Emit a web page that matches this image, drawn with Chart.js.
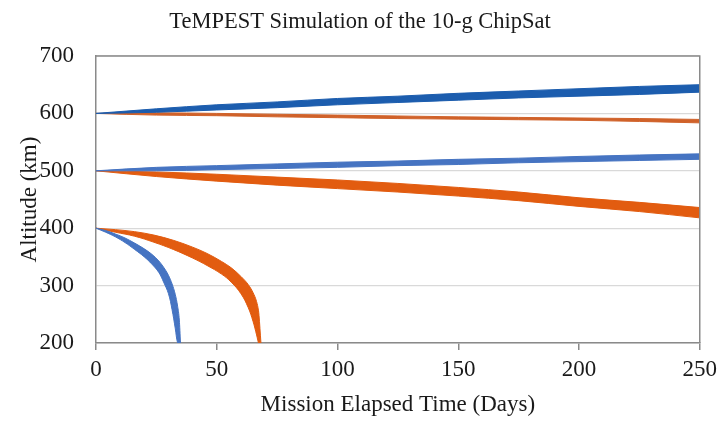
<!DOCTYPE html>
<html>
<head>
<meta charset="utf-8">
<script src="https://cdn.jsdelivr.net/npm/chart.js@4"></script>
<style>
  html, body { margin: 0; padding: 0; background: #ffffff; }
  #wrap { width: 723px; height: 421px; }
</style>
</head>
<body>
<div id="wrap"><canvas id="c" width="723" height="421"></canvas></div>
<script>
// ---- data ----
const titleText = 'TeMPEST Simulation of the 10-g ChipSat';
const xTitle = 'Mission Elapsed Time (Days)';
const yTitle = 'Altitude (km)';
const xTicks = [0, 50, 100, 150, 200, 250];
const yTicks = [200, 300, 400, 500, 600, 700];

// long-term runs (days)
const longDays = [0, 25, 50, 75, 100, 125, 150, 175, 200, 225, 250];
// 600 km start, rising (dark blue) - band upper / lower
const blue600Upper = [600, 608, 615, 620, 626, 630, 635, 639, 643, 647, 650];
const blue600Lower = [600, 602, 606, 610, 615, 619, 623, 627, 630, 633, 637];
// 600 km start, slowly decaying (orange)
const orange600Upper = [600, 601, 600, 598.5, 597, 595.5, 594, 593, 592, 591, 589.5];
const orange600Lower = [600, 597, 596, 594, 592.5, 591, 590, 589, 588, 586, 583.5];
// 500 km start, rising (light blue)
const blue500Upper = [500, 506, 509, 512, 515, 517, 520, 522, 525, 527.5, 529.5];
const blue500Lower = [500, 500, 502, 504, 506, 509, 511, 514, 516, 518, 520];
// 500 km start, decaying (orange)
const orange500Upper = [500, 498, 494, 489, 484, 478, 471, 463, 453, 445, 436];
const orange500Lower = [500, 490, 482, 475, 469, 463, 456, 448, 438, 429, 418];

// 400 km start, fast re-entry (blue)
const blue400Days  = [0, 4, 8, 12, 16, 20, 23, 26, 28, 30, 31.5, 32.8, 33.8, 34.5, 35];
const blue400Upper = [400, 396, 390, 383, 374, 364, 355, 343, 332, 318, 303, 285, 264, 240, 200];
const blue400Lower = [400, 393, 385, 375, 363, 350, 338, 323, 306, 286, 258, 226, 200, 200, 200];
// 400 km start, slower re-entry (orange)
const orange400Days  = [0, 8, 16, 24, 32, 40, 46, 52, 56, 60, 63, 65, 66.5, 67.3, 67.5, 68.3];
const orange400Upper = [400, 397.5, 394, 388, 379, 367, 356, 342, 331, 316, 302, 288, 272, 256, 248, 200];
const orange400Lower = [400, 393, 386, 375.5, 363, 348, 335, 320, 306, 286, 262, 238, 214, 200, 200, 200];

// ---- styling ----
const C_DARKBLUE = '#1C5DAE';
const C_LIGHTBLUE = '#4674C2';
const C_ORANGE = '#E25C10';
const C_ORANGE_THIN = '#D0622A';
const C_AXIS = '#8a8a8a';
const C_GRID = '#d9d9d9';
const FONT = "'Liberation Serif', 'Times New Roman', serif";

function pts(xs, ys) { return xs.map((x, i) => ({ x: x, y: ys[i] })); }

function band(xs, upper, lower, color, lowerMonotone) {
  const lowerDs = { data: pts(xs, lower), borderColor: color, backgroundColor: color, borderWidth: 1,
      pointRadius: 0, fill: false };
  if (lowerMonotone) lowerDs.cubicInterpolationMode = 'monotone';
  else { lowerDs.cubicInterpolationMode = 'default'; lowerDs.tension = 0.4; }
  return [
    lowerDs,
    { data: pts(xs, upper), borderColor: color, backgroundColor: color, borderWidth: 1,
      pointRadius: 0, fill: '-1', cubicInterpolationMode: 'monotone' }
  ];
}

const datasets = [].concat(
  band(longDays, blue600Upper, blue600Lower, C_DARKBLUE, true),
  band(longDays, orange600Upper, orange600Lower, C_ORANGE_THIN, true),
  band(longDays, blue500Upper, blue500Lower, C_LIGHTBLUE, true),
  band(longDays, orange500Upper, orange500Lower, C_ORANGE, true),
  band(blue400Days, blue400Upper, blue400Lower, C_LIGHTBLUE, false),
  band(orange400Days, orange400Upper, orange400Lower, C_ORANGE, false)
);

const frame = {
  id: 'frame',
  afterDatasetsDraw(chart) {
    const a = chart.chartArea, ctx = chart.ctx;
    ctx.save();
    ctx.strokeStyle = C_AXIS;
    ctx.lineWidth = 1.5;
    ctx.beginPath();
    ctx.moveTo(a.left, a.top);
    ctx.lineTo(a.right, a.top);
    ctx.lineTo(a.right, a.bottom);
    ctx.stroke();
    ctx.restore();
  }
};

new Chart(document.getElementById('c'), {
  type: 'line',
  data: { datasets: datasets },
  plugins: [frame],
  options: {
    responsive: false,
    animation: false,
    events: [],
    layout: { padding: { left: 18, right: 21, top: 0, bottom: 0 } },
    plugins: {
      legend: { display: false },
      tooltip: { enabled: false },
      title: {
        display: true,
        text: titleText,
        color: '#1a1a1a',
        font: { family: FONT, size: 22.5, weight: 'normal', lineHeight: 1.2 },
        padding: { top: 9, bottom: 20 }
      }
    },
    scales: {
      x: {
        type: 'linear',
        min: 0, max: 250,
        afterBuildTicks: (s) => { s.ticks = xTicks.map(v => ({ value: v })); },
        afterFit: (s) => { s.height = 421 - 343; },
        ticks: { color: '#1a1a1a', font: { family: FONT, size: 23 }, padding: 6, maxRotation: 0 },
        grid: { drawOnChartArea: false, drawTicks: true, tickLength: 7, color: C_AXIS, lineWidth: 1.5 },
        border: { color: C_AXIS, width: 1.5 },
        title: { display: true, text: xTitle, color: '#1a1a1a',
                 font: { family: FONT, size: 23, lineHeight: 1.2 }, padding: { top: 0, bottom: 2 } }
      },
      y: {
        type: 'linear',
        min: 200, max: 700,
        afterBuildTicks: (s) => { s.ticks = yTicks.map(v => ({ value: v })); },
        afterFit: (s) => { s.width = 78; },
        ticks: { color: '#1a1a1a', font: { family: FONT, size: 23 }, padding: 22 },
        grid: { drawTicks: false, color: C_GRID, lineWidth: 1.2 },
        border: { color: C_AXIS, width: 1.5 },
        title: { display: true, text: yTitle, color: '#1a1a1a',
                 font: { family: FONT, size: 23, lineHeight: 1.0 }, padding: { top: 0, bottom: 0 } }
      }
    }
  }
});
</script>
</body>
</html>
